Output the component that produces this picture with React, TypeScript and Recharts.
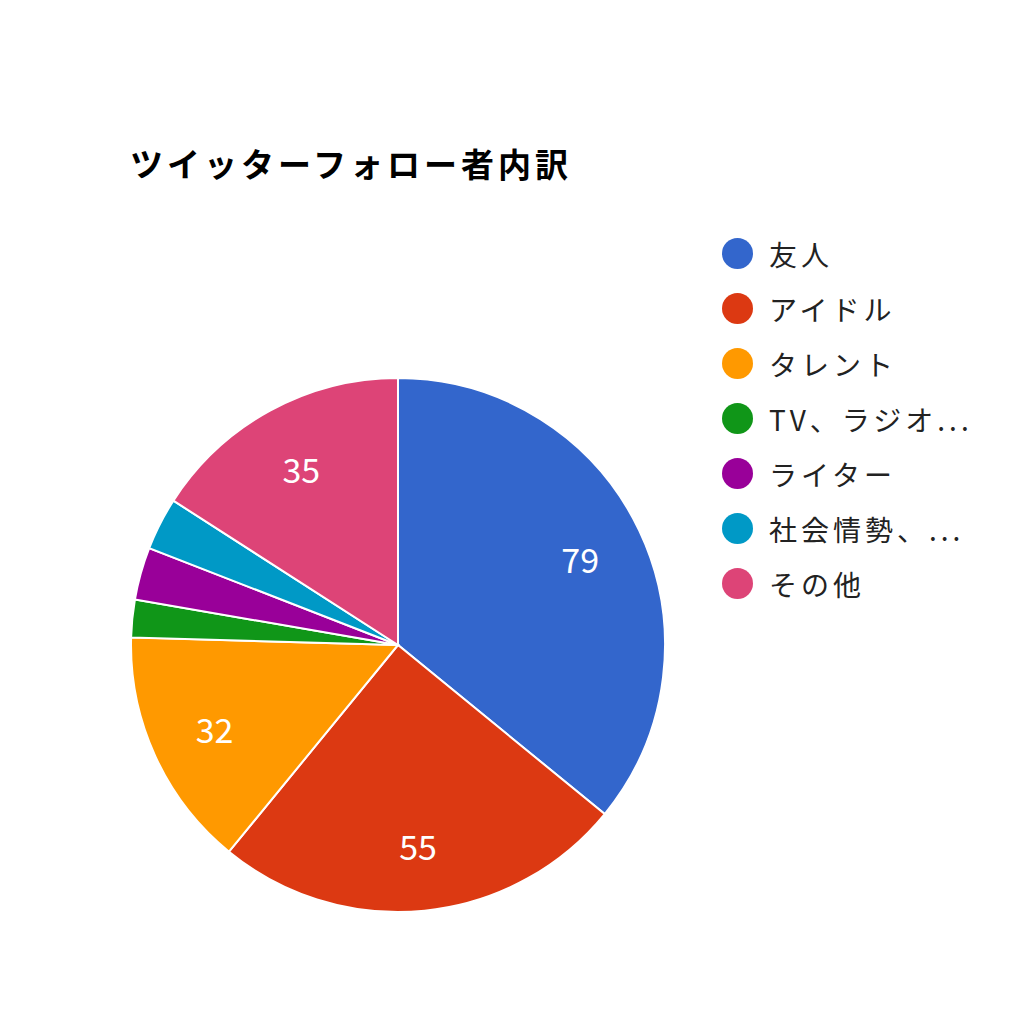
import { PieChart, Pie, Cell } from "recharts";

const labels = ["友人", "アイドル", "タレント", "TV、ラジオ...", "ライター", "社会情勢、...", "その他"];
const counts = [79, 55, 32, 5, 7, 7, 35];
const colors = ["#3366cc", "#dc3912", "#ff9900", "#109618", "#990099", "#0099c6", "#dd4477"];

const data = labels.map((name, i) => ({ name, value: counts[i] }));

const RADIAN = Math.PI / 180;
const FONT = "'Noto Sans CJK JP', 'Noto Sans', sans-serif";

const renderLabel = (props: any) => {
  const { cx, cy, midAngle, outerRadius, value } = props;
  if (value < 10) return null;
  const r = outerRadius * 0.755;
  const x = cx + r * Math.cos(-midAngle * RADIAN);
  const y = cy + r * Math.sin(-midAngle * RADIAN);
  return (
    <text x={x} y={y} fill="#ffffff" fontSize={34} fontFamily={FONT} textAnchor="middle" dominantBaseline="central">
      {value}
    </text>
  );
};

export default function App() {
  return (
    <div style={{ position: "absolute", left: 0, top: 0, width: 1024, height: 1024, background: "#fff", fontFamily: FONT }}>
      <div
        style={{
          position: "absolute",
          left: 130,
          top: 139,
          fontSize: 33,
          fontWeight: 700,
          letterSpacing: 4,
          color: "#000",
          whiteSpace: "nowrap",
        }}
      >
        ツイッターフォロー者内訳
      </div>
      <PieChart width={1024} height={1024} style={{ position: "absolute", left: 0, top: 0 }}>
        <Pie
          data={data}
          dataKey="value"
          nameKey="name"
          cx={393}
          cy={640}
          outerRadius={267}
          startAngle={90}
          endAngle={-270}
          stroke="#ffffff"
          strokeWidth={2}
          label={renderLabel}
          labelLine={false}
          isAnimationActive={false}
        >
          {data.map((d, i) => (
            <Cell key={d.name} fill={colors[i]} />
          ))}
        </Pie>
      </PieChart>
      <div style={{ position: "absolute", left: 722, top: 226 }}>
        {data.map((d, i) => (
          <div key={d.name} style={{ display: "flex", alignItems: "center", height: 55 }}>
            <span
              style={{
                display: "inline-block",
                width: 31,
                height: 31,
                borderRadius: "50%",
                background: colors[i],
                marginRight: 16,
              }}
            />
            <span style={{ fontSize: 28, color: "#222", letterSpacing: 4, whiteSpace: "nowrap" }}>{d.name}</span>
          </div>
        ))}
      </div>
    </div>
  );
}
